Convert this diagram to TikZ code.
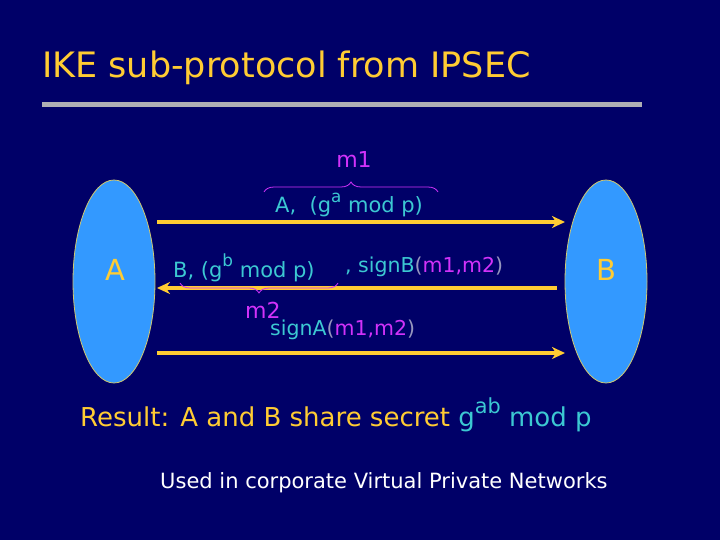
\documentclass[tikz,border=0pt]{standalone}
\usepackage{fontspec}
\setmainfont{DejaVu Sans}
\usetikzlibrary{shapes.geometric,arrows.meta,decorations.pathreplacing}
\definecolor{bg}{RGB}{0,0,104}
\definecolor{ttl}{RGB}{255,204,51}
\definecolor{ell}{RGB}{51,153,255}
\definecolor{ellline}{RGB}{210,200,110}
\definecolor{cy}{RGB}{60,200,210}
\definecolor{mg}{RGB}{210,50,250}
\definecolor{gr}{RGB}{150,150,190}
\definecolor{bar}{RGB}{175,175,180}
\tikzset{
  party/.style={ellipse, fill=ell, draw=ellline, line width=0.8pt, minimum width=82pt, minimum height=203pt, inner sep=0pt, outer sep=0pt},
  plab/.style={text=ttl, font=\fontsize{29}{32}\selectfont, inner sep=0pt},
  msg/.style={draw=ttl, line width=4pt, -{Stealth[length=13pt,width=12pt,inset=4pt]}},
  lab/.style={text=cy, inner sep=0pt, anchor=base west},
  mlab/.style={text=mg, font=\fontsize{22}{24}\selectfont, inner sep=0pt},
  brc/.style={draw=mg, line width=0.8pt, decorate, decoration={brace, amplitude=10pt}}
}
\newcommand{\mm}[1]{\textcolor{mg}{#1}}
\newcommand{\pp}[1]{\textcolor{gr}{#1}}
\newcommand{\sups}[1]{\raisebox{0.5em}{\scalebox{0.8}{#1}}}
\begin{document}
\begin{tikzpicture}[x=1pt,y=-1pt]
\fill[bg] (0,0) rectangle (720,540);
\useasboundingbox (0,0) rectangle (720,540);
% title
\node[text=ttl, font=\fontsize{35}{38}\selectfont, anchor=base west, inner sep=0pt] (title) at (42,78) {IKE sub-protocol from IPSEC};
\fill[bar] (42,102) rectangle (642,107);
% parties
\node[party] (A) at (114,281.5) {};
\node[party] (B) at (606,281.5) {};
\node[plab] (Al) at (115,270) {A};
\node[plab] (Bl) at (606,270) {B};
% arrow end points
\coordinate (a1s) at (157,222);
\coordinate (a1e) at (565,222);
\coordinate (a2s) at (557,288);
\coordinate (a2e) at (157,288);
\coordinate (a3s) at (157,353);
\coordinate (a3e) at (565,353);
\draw[msg] (a1s) -- (a1e);
\draw[msg] (a2s) -- (a2e);
\draw[msg] (a3s) -- (a3e);
% message 1
\node[lab, font=\fontsize{21}{24}\selectfont] (t1) at (275,213) {A,\ \ (g\sups{a} mod p)};
\coordinate (b1s) at (264,192);
\coordinate (b1e) at (438,192);
\draw[brc] (b1s) -- (b1e);
\node[mlab, anchor=base] (m1) at (354,168) {m1};
% message 2
\node[lab, font=\fontsize{21}{24}\selectfont] (t2) at (173,277) {B, (g\sups{b} mod p)};
\node[lab, font=\fontsize{20.5}{24}\selectfont] (t3) at (345,272) {, signB\pp{(}\mm{m1,m2}\pp{)}};
\coordinate (b2s) at (338,283);
\coordinate (b2e) at (180,283);
\draw[brc] (b2s) -- (b2e);
\node[mlab, anchor=base west] (m2) at (245,318) {m2};
% message 3
\node[lab, font=\fontsize{20.5}{24}\selectfont] (t4) at (270,335) {signA\pp{(}\mm{m1,m2}\pp{)}};
% result
\node[anchor=base west, inner sep=0pt, font=\fontsize{26}{30}\selectfont] (res) at (80,426) {\textcolor{ttl}{Result: A and B share secret} \textcolor{cy}{g\sups{ab} mod p}};
\node[anchor=base west, inner sep=0pt, text=white, font=\fontsize{21}{24}\selectfont] (vpn) at (160,488) {Used in corporate Virtual Private Networks};
\end{tikzpicture}
\end{document}
